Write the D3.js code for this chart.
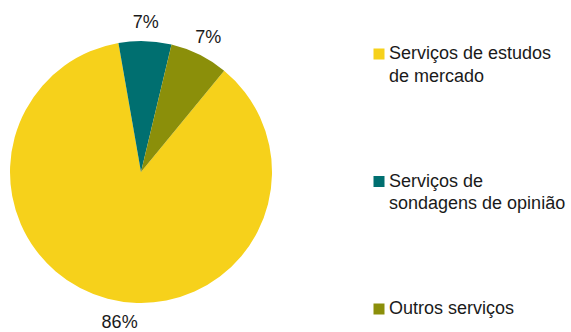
<html>
<head>
  <meta charset="utf-8">
  <title>Serviços</title>
  <script src="https://d3js.org/d3.v7.min.js"></script>
  <style>
  body { margin: 0; background: #fff; }
  text { font-family: "Liberation Sans", Arial, sans-serif; fill: #1a1a1a; }
  </style>
</head>
<body>
<script>

var categories = ['Serviços de estudos de mercado', 'Serviços de sondagens de opinião', 'Outros serviços'];
var legendLines = [['Serviços de estudos', 'de mercado'], ['Serviços de', 'sondagens de opinião'], ['Outros serviços']];
var values = [86.3, 6.5, 7.2];
var colors = ['#f6d11b', '#006f70', '#8b8f0a'];

var width = 571,
    height = 332;

var svg = d3.select('body')
  .append('svg')
  .attr('width', width)
  .attr('height', height);

var cx = 141, cy = 172, r = 131;
var start = 39.4 * Math.PI / 180;

var pie = d3.pie()
  .sort(null)
  .startAngle(start)
  .endAngle(start + 2 * Math.PI);

var arcs = pie(values);

var arc = d3.arc().innerRadius(0).outerRadius(r);
var labelArc = d3.arc().innerRadius(151).outerRadius(151);

var g = svg.append('g').attr('transform', 'translate(' + cx + ',' + cy + ')');

g.selectAll('path')
  .data(arcs)
  .enter()
  .append('path')
  .attr('d', arc)
  .attr('fill', function(d, i) { return colors[i]; });

// excel pulls the big label a bit towards the bottom
var nudge = [-6.6 * Math.PI / 180, 0, 0];

g.selectAll('text.lbl')
  .data(arcs)
  .enter()
  .append('text')
  .attr('class', 'lbl')
  .attr('transform', function(d, i) {
    var a = (d.startAngle + d.endAngle) / 2 + nudge[i];
    var p = labelArc.centroid({startAngle: a, endAngle: a});
    return 'translate(' + p[0] + ',' + (p[1] + 6.5) + ')';
  })
  .attr('text-anchor', 'middle')
  .style('font-size', '18px')
  .text(function(d) { return Math.round(d.value) + '%'; });

var y = d3.scalePoint()
  .domain(categories)
  .range([59, 314]);

var legend = svg.append('g');

var item = legend.selectAll('g')
  .data(categories)
  .enter()
  .append('g')
  .attr('transform', function(d) { return 'translate(373,' + y(d) + ')'; });

item.append('rect')
  .attr('x', 0.5)
  .attr('y', -10.5)
  .attr('width', 11)
  .attr('height', 11)
  .attr('fill', function(d, i) { return colors[i]; });

item.append('text')
  .attr('x', 16)
  .style('font-size', '18px')
  .selectAll('tspan')
  .data(function(d, i) { return legendLines[i]; })
  .enter()
  .append('tspan')
  .attr('x', 16)
  .attr('dy', function(d, i) { return i ? 22.5 : 0; })
  .text(function(d) { return d; });

</script>
</body>
</html>
